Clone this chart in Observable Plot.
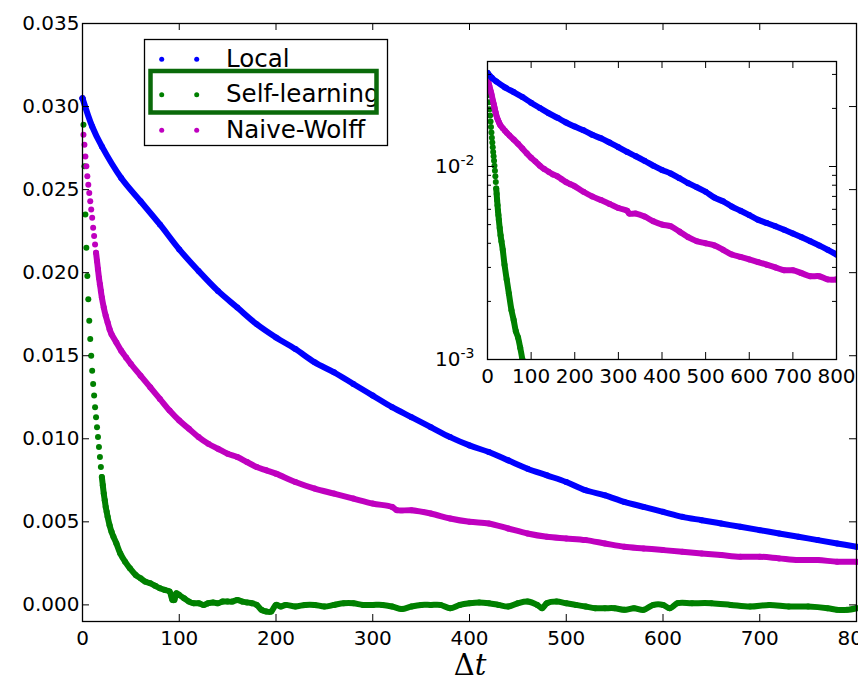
<!DOCTYPE html>
<html>
<head>
<meta charset="utf-8">
<script src="https://cdn.jsdelivr.net/npm/d3@7"></script>
<script src="https://cdn.jsdelivr.net/npm/@observablehq/plot@0.6"></script>
<style>
  body { margin: 0; background: #fff; }
  #wrap { position: relative; width: 858px; height: 683px; overflow: hidden; font-family: "DejaVu Sans", sans-serif; }
  #wrap > svg { position: absolute; }
</style>
</head>
<body>
<div id="wrap"></div>
<script>
// Autocorrelation vs time separation Δt for three update schemes
const seriesNames = ["Local", "Self-learning", "Naive-Wolff"];
const seriesColors = ["#0000ff", "#008000", "#bf00bf"];

// [Δt, value]
const local = [
  [0,0.0305],[10,0.0288],[20,0.0276],[40,0.0257],[60,0.0243],[80,0.0229],[100,0.0214],[120,0.0201],
  [140,0.0189],[160,0.0179],[180,0.0169],[200,0.0161],[220,0.0154],[240,0.0146],[260,0.0140],
  [280,0.0133],[300,0.0126],[320,0.0119],[340,0.0113],[360,0.0107],[380,0.0101],[400,0.0096],
  [420,0.0092],[440,0.0087],[460,0.0082],[480,0.0078],[500,0.0074],[520,0.0069],[540,0.0066],
  [560,0.0062],[580,0.0059],[600,0.0056],[620,0.0053],[640,0.0051],[660,0.0049],[680,0.0047],
  [700,0.0045],[720,0.0043],[740,0.0041],[760,0.0039],[780,0.0037],[800,0.0035]
];

const selfLearning = [
  [0,0.0305],[1,0.0289],[2,0.0264],[3,0.0235],[4,0.0215],[5,0.0198],[6,0.0184],[7,0.0171],
  [8,0.0160],[9,0.0150],[10,0.0141],[11,0.0133],[12,0.0126],[13,0.0119],[14,0.0113],[15,0.0107],
  [16,0.0101],[17,0.0095],[18,0.0089],[19,0.0083],[20,0.0077],[21,0.0072],[22,0.0067],[23,0.0063],
  [24,0.0059],[25,0.0056],[26,0.0053],[28,0.0048],[30,0.0044],[32,0.0041],[35,0.0037],[39,0.0031],
  [44,0.0026],[49,0.0022],[55,0.0018],[60,0.0016],[65,0.0014],[70,0.0013],[75,0.00115],[80,0.0010],
  [85,0.0009],[90,0.0008],[93,0.0003],[95,0.0003],[97,0.0007],[100,0.0006],[105,0.0004],[110,0.0002],
  [115,0.0001],[120,0.0001],[125,0.0000],[130,0.0001],[135,0.00015],[140,0.0001],[145,0.0002],
  [150,0.0002],[155,0.0002],[160,0.0003],[165,0.0002],[170,0.00015],[175,0.0001],[180,0.0000],
  [185,-0.0003],[190,-0.0004],[195,-0.0004],[200,0.0000],[205,-0.0001],[210,0.0000],[220,-0.0001],
  [230,0.0000],[240,0.0000],[250,-0.0001],[260,0.0000],[270,0.0001],[280,0.0001],[290,0.0000],
  [300,0.0000],[310,0.0000],[320,-0.0001],[330,-0.00025],[340,-0.0001],[350,0.0000],[360,0.0000],
  [370,0.0000],[380,-0.0002],[390,0.0000],[400,0.0001],[410,0.00015],[420,0.0001],[430,0.0000],
  [440,-0.0001],[450,0.0001],[460,0.0002],[470,0.0000],[475,-0.0002],[480,0.0001],[490,0.0002],
  [500,0.0001],[510,0.0000],[520,-0.0001],[530,-0.0002],[540,-0.0002],[550,-0.0002],[560,-0.0003],
  [570,-0.0002],[580,-0.0003],[590,0.0000],[600,0.0000],[607,-0.0002],[615,0.0001],[630,0.0001],
  [650,0.0001],[670,0.0000],[690,-0.0001],[710,0.0000],[730,-0.0001],[750,-0.0001],[770,-0.0002],
  [780,-0.0003],[790,-0.0003],[800,-0.0002]
];

const naiveWolff = [
  [0,0.0305],[1,0.0283],[2,0.0277],[3,0.0270],[4,0.0264],[5,0.0258],[6,0.0253],[7,0.0248],
  [8,0.0243],[9,0.0238],[10,0.0233],[11,0.0227],[12,0.0222],[13,0.0217],[14,0.0212],[15,0.0207],
  [16,0.0202],[17,0.0197],[18,0.0193],[19,0.0189],[20,0.0185],[22,0.0179],[24,0.0174],[26,0.0170],
  [28,0.0166],[30,0.0163],[35,0.0158],[40,0.0153],[45,0.0149],[50,0.0145],[60,0.0138],[70,0.0131],
  [80,0.0124],[90,0.0117],[100,0.0111],[110,0.0106],[120,0.0101],[130,0.0097],[140,0.0094],
  [150,0.0091],[160,0.0089],[170,0.0086],[180,0.0083],[190,0.0081],[200,0.0079],[220,0.0074],
  [240,0.0070],[260,0.0067],[280,0.0064],[300,0.0061],[320,0.0059],[325,0.0057],[340,0.0057],
  [360,0.0055],[380,0.0052],[400,0.0050],[420,0.0049],[440,0.0046],[460,0.0043],[480,0.0041],
  [500,0.0040],[520,0.0039],[540,0.0037],[560,0.0035],[580,0.0034],[600,0.0033],[620,0.0032],
  [640,0.0031],[660,0.0030],[680,0.0029],[700,0.0029],[720,0.0028],[740,0.0027],[760,0.0027],
  [780,0.0026],[800,0.0026]
];

// Δt from which consecutive markers merge into a continuous band
const bandFrom = [0, 20, 14];
// drawing order: Self-learning, Naive-Wolff, then Local on top
const drawOrder = [1, 2, 0];

const xTicks = [0, 100, 200, 300, 400, 500, 600, 700, 800];
const yTicks = [0.000, 0.005, 0.010, 0.015, 0.020, 0.025, 0.030, 0.035];
const insetMajorY = [0.001, 0.01];
const insetMinorY = [0.002, 0.003, 0.004, 0.005, 0.006, 0.007, 0.008, 0.009, 0.02, 0.03];
const insetYExponent = {0.001: "-3", 0.01: "-2"};

const rawSeries = [local, selfLearning, naiveWolff];
const series = rawSeries.map((arr, i) => arr.map(([t, v]) => ({t, v, name: seriesNames[i]})));

function seriesMarks(filter = () => true, clip = false) {
  const marks = [];
  drawOrder.forEach(i => {
    const pts = series[i].filter(filter);
    marks.push(Plot.line(pts.filter(d => d.t >= bandFrom[i]), {
      x: "t", y: "v", stroke: seriesColors[i], strokeWidth: 6, curve: "catmull-rom",
      strokeLinejoin: "round", strokeLinecap: "round", clip
    }));
    marks.push(Plot.dot(pts, {x: "t", y: "v", r: 3, fill: seriesColors[i], stroke: "none", clip}));
  });
  return marks;
}

// inward-pointing ticks on all four sides of a frame
function frameTicks(xs, ys, plotW, plotH, len) {
  return [
    Plot.tickX(xs, {x: d => d, insetTop: plotH - len, stroke: "black", strokeWidth: 1}),
    Plot.tickX(xs, {x: d => d, insetBottom: plotH - len, stroke: "black", strokeWidth: 1}),
    Plot.tickY(ys, {y: d => d, insetRight: plotW - len, stroke: "black", strokeWidth: 1}),
    Plot.tickY(ys, {y: d => d, insetLeft: plotW - len, stroke: "black", strokeWidth: 1})
  ];
}

const wrap = document.getElementById("wrap");

// Main axes
const M = {w: 858, h: 683, l: 82, r: 2, t: 23, b: 62};
const mainW = M.w - M.l - M.r, mainH = M.h - M.t - M.b;
const mainPlot = Plot.plot({
  width: M.w, height: M.h,
  marginLeft: M.l, marginRight: M.r, marginTop: M.t, marginBottom: M.b,
  style: {fontFamily: "DejaVu Sans", fontSize: "20px", color: "black", background: "transparent"},
  x: {domain: [0, 800], label: null},
  y: {domain: [-0.001, 0.035], label: null},
  marks: [
    ...seriesMarks(),
    ...frameTicks(xTicks.slice(1, -1), yTicks, mainW, mainH, 7),
    Plot.frame({stroke: "black", strokeWidth: 1.3}),
    Plot.axisX(xTicks, {tickSize: 0, tickPadding: 9, fontSize: 20}),
    Plot.axisY(yTicks, {tickSize: 0, tickPadding: 3, fontSize: 20, tickFormat: d3.format(".3f")})
  ]
});
mainPlot.style.left = "0px";
mainPlot.style.top = "0px";
wrap.appendChild(mainPlot);

// Inset: same data on a logarithmic scale
const I = {left: 420, top: 40, w: 438, h: 360, l: 67, r: 22, t: 21, b: 41};
const insetW = I.w - I.l - I.r, insetH = I.h - I.t - I.b;
const insetPlot = Plot.plot({
  width: I.w, height: I.h,
  marginLeft: I.l, marginRight: I.r, marginTop: I.t, marginBottom: I.b,
  style: {fontFamily: "DejaVu Sans", fontSize: "20px", color: "black", background: "transparent"},
  x: {domain: [0, 800], label: null},
  y: {type: "log", domain: [0.001, 0.035], label: null},
  marks: [
    Plot.frame({fill: "white", stroke: "none"}),
    ...seriesMarks(d => d.v >= 0.001, true),
    ...frameTicks(xTicks.slice(1, -1), insetMajorY, insetW, insetH, 7),
    ...frameTicks([], insetMinorY, insetW, insetH, 4),
    Plot.frame({stroke: "black", strokeWidth: 1.3}),
    Plot.axisX(xTicks, {tickSize: 0, tickPadding: 9, fontSize: 20}),
    Plot.axisY(insetMajorY, {tickSize: 0, tickPadding: 13, fontSize: 20, tickFormat: d => "10" + insetYExponent[d]})
  ]
});
insetPlot.style.left = I.left + "px";
insetPlot.style.top = I.top + "px";
wrap.appendChild(insetPlot);

// power-of-ten labels: raise the exponent as a superscript
d3.select(insetPlot).selectAll('[aria-label="y-axis tick label"] text').each(function() {
  const s = this.textContent;
  if (!s.startsWith("10")) return;
  const exp = s.slice(2);
  const t = d3.select(this);
  t.text("10");
  t.append("tspan").attr("dy", "-8").attr("font-size", 14).text(exp);
});

// Legend, highlight box and Δt axis title
const over = d3.create("svg")
  .attr("width", 858).attr("height", 683)
  .style("left", "0px").style("top", "0px")
  .attr("font-family", "DejaVu Sans");

over.append("rect")
  .attr("x", 144.5).attr("y", 39.5).attr("width", 243).attr("height", 106)
  .attr("fill", "white").attr("stroke", "black").attr("stroke-width", 1.3);

seriesNames.forEach((name, i) => {
  const cy = 59.3 + i * 35.5;
  [161.7, 196.7].forEach(cx => over.append("circle")
    .attr("cx", cx).attr("cy", cy).attr("r", 2.5).attr("fill", seriesColors[i]));
  over.append("text")
    .attr("x", 226).attr("y", cy + 7.6)
    .attr("font-size", 24.5).attr("fill", "black")
    .text(name);
});

over.append("rect")
  .attr("x", 150.5).attr("y", 71).attr("width", 226).attr("height", 41.5)
  .attr("fill", "none").attr("stroke", "#0a6a0a").attr("stroke-width", 4.5);

const xt = over.append("text")
  .attr("x", 470).attr("y", 675)
  .attr("text-anchor", "middle")
  .attr("font-family", "DejaVu Serif")
  .attr("font-size", 29).attr("fill", "black");
xt.append("tspan").text("Δ");
xt.append("tspan").attr("font-style", "italic").text("t");

wrap.appendChild(over.node());
</script>
</body>
</html>
